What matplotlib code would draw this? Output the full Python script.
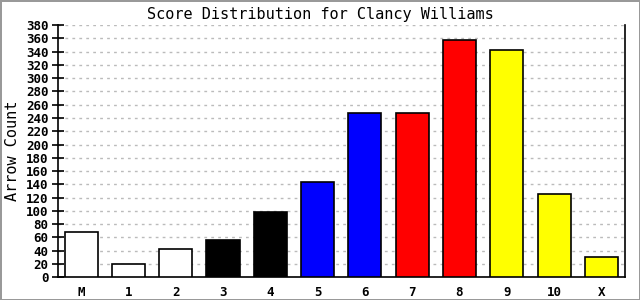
import numpy as np
import matplotlib
matplotlib.use("Agg")
import matplotlib.pyplot as plt

categories = ["M", "1", "2", "3", "4", "5", "6", "7", "8", "9", "10", "X"]
counts = [68, 20, 43, 56, 98, 143, 248, 248, 357, 342, 126, 31]
colors = ["white", "white", "white", "black", "black", "blue", "blue",
          "red", "red", "yellow", "yellow", "yellow"]

plt.rcParams['font.family'] = ['DejaVu Sans Mono']

fig = plt.figure(figsize=(6.4, 3.0), dpi=100)
fig.patch.set_edgecolor("#999999")
fig.patch.set_linewidth(2)
ax = fig.add_axes([57.5 / 640, 1 - 277.3 / 300, (625 - 57.5) / 640, (277.3 - 25) / 300])

x = np.arange(len(categories))
ax.bar(x, counts, width=0.7, color=colors, edgecolor="black", linewidth=1.2, zorder=3)

ax.set_xlim(-0.5, len(categories) - 0.5)
ax.set_ylim(0, 380)
ax.set_yticks(np.arange(0, 381, 20))
ax.set_xticks(x)
ax.set_xticklabels(categories)
for lab in ax.get_xticklabels() + ax.get_yticklabels():
    lab.set_fontweight("bold")
    lab.set_fontsize(9)

ax.tick_params(axis="x", length=0, pad=6)
ax.tick_params(axis="y", direction="inout", length=9, width=1.2, pad=2)
ax.grid(axis="y", color="#bbbbbb", linestyle=(0, (2, 3)), linewidth=1, zorder=0)

ax.spines["top"].set_visible(False)
for s in ["left", "bottom", "right"]:
    ax.spines[s].set_linewidth(1.2)

ax.set_ylabel("Arrow Count", fontsize=11, labelpad=4)
fig.text(0.5, 1 - 14 / 300, "Score Distribution for Clancy Williams",
         ha="center", va="center", fontsize=11)

fig.savefig("out.png", dpi=100, edgecolor=fig.get_edgecolor())
